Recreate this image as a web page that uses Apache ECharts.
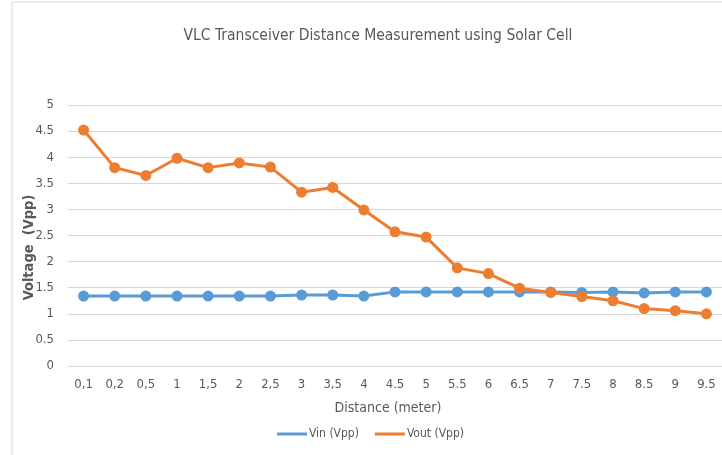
<!DOCTYPE html>
<html>
<head>
<meta charset="utf-8">
<title>VLC Transceiver Distance Measurement</title>
<script src="https://cdn.jsdelivr.net/npm/echarts@6/dist/echarts.min.js"></script>
<style>
  html, body { margin: 0; padding: 0; background: #fff; }
  #container { width: 722px; height: 455px; }
</style>
</head>
<body>
<div id="container"></div>
<script>
var distances = ['0,1', '0,2', '0,5', '1', '1,5', '2', '2,5', '3', '3,5', '4', '4.5', '5', '5.5', '6', '6.5', '7', '7.5', '8', '8.5', '9', '9.5'];
var vin = [1.34, 1.34, 1.34, 1.34, 1.34, 1.34, 1.34, 1.36, 1.36, 1.34, 1.42, 1.42, 1.42, 1.42, 1.42, 1.42, 1.41, 1.42, 1.40, 1.42, 1.42];
var vout = [4.52, 3.80, 3.65, 3.98, 3.80, 3.89, 3.81, 3.33, 3.42, 2.99, 2.57, 2.47, 1.88, 1.77, 1.49, 1.41, 1.33, 1.25, 1.10, 1.06, 1.00];

var font = "'Liberation Sans Narrow', 'DejaVu Sans Condensed', sans-serif";
var myChart = echarts.init(document.getElementById('container'));

var option = {
    textStyle: { fontFamily: font },
    title: {
        text: 'VLC Transceiver Distance Measurement using Solar Cell',
        left: 373, top: 23, textAlign: 'center',
        textStyle: { fontFamily: font, fontSize: 15.5, fontWeight: 'normal', color: '#595959' }
    },
    graphic: [{
        type: 'rect',
        shape: { x: 12, y: 2, width: 720, height: 460 },
        style: { fill: 'none', stroke: '#d9d9d9', lineWidth: 1 },
        silent: true
    }],
    legend: {
        bottom: 10, left: 272,
        itemWidth: 30, itemHeight: 3, itemGap: 16,
        icon: 'rect',
        textStyle: { fontFamily: font, fontSize: 12, color: '#595959', padding: [0, 0, 0, -3] },
        data: ['Vin (Vpp)', 'Vout (Vpp)']
    },
    grid: { left: 68, right: -5, top: 105, bottom: 89 },
    xAxis: {
        type: 'category',
        data: distances,
        name: 'Distance (meter)',
        nameLocation: 'middle',
        nameGap: 35,
        nameTextStyle: { fontFamily: font, fontSize: 14, color: '#595959', padding: [0, 14, 0, 0] },
        axisLine: { lineStyle: { color: '#d9d9d9' } },
        axisTick: { show: false },
        axisLabel: { fontFamily: font, fontSize: 13, color: '#595959', margin: 12, interval: 0 }
    },
    yAxis: {
        type: 'value',
        min: 0, max: 5, interval: 0.5,
        name: 'Voltage  (Vpp)',
        nameLocation: 'middle',
        nameGap: 31,
        nameMoveOverlap: false,
        nameTextStyle: { fontFamily: font, fontSize: 14.5, fontWeight: 'bold', color: '#595959', padding: [0, 24, 0, 0] },
        axisLine: { show: false },
        axisTick: { show: false },
        axisLabel: { fontFamily: font, fontSize: 13, color: '#595959', margin: 14 },
        splitLine: { lineStyle: { color: '#d9d9d9' } }
    },
    series: [
        {
            name: 'Vin (Vpp)', type: 'line', data: vin,
            symbol: 'circle', symbolSize: 11,
            lineStyle: { width: 3, color: '#5b9bd5' },
            itemStyle: { color: '#5b9bd5' }
        },
        {
            name: 'Vout (Vpp)', type: 'line', data: vout,
            symbol: 'circle', symbolSize: 11,
            lineStyle: { width: 3, color: '#ed7d31' },
            itemStyle: { color: '#ed7d31' }
        }
    ]
};
myChart.setOption(option);
</script>
</body>
</html>
